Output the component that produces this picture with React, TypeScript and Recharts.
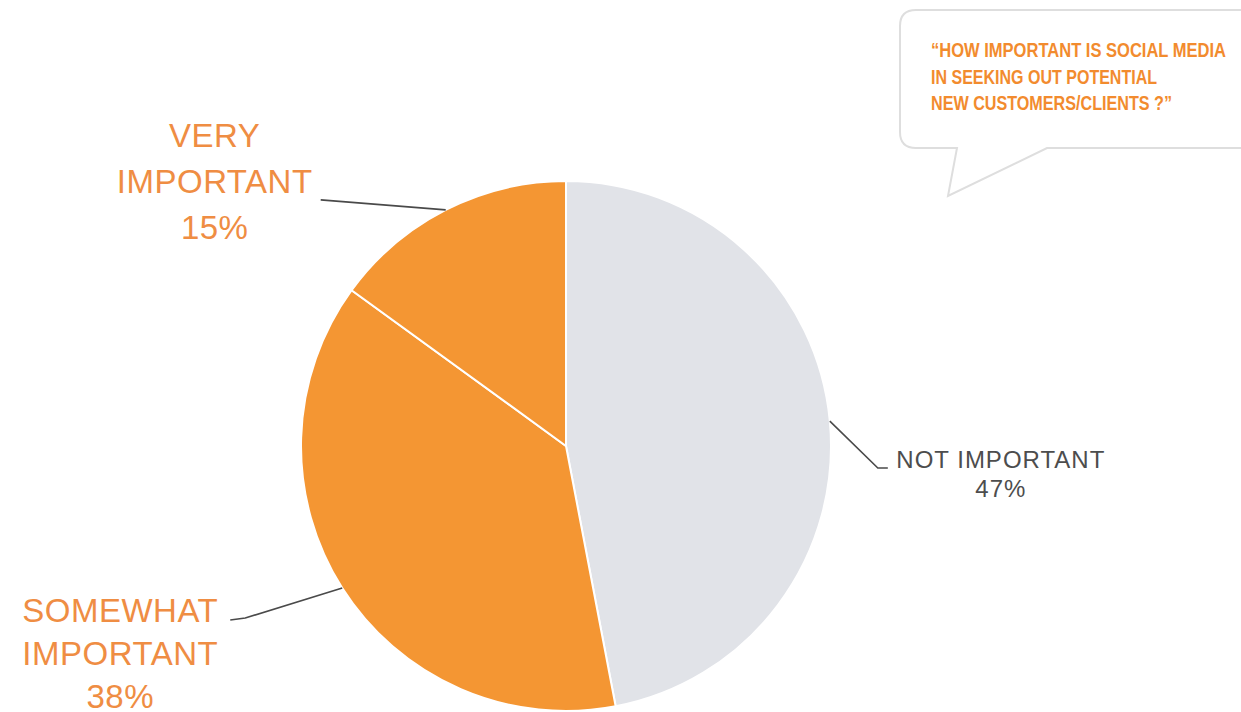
import React from "react";
import { PieChart, Pie, Cell } from "recharts";

// survey answers, clockwise from 12 o'clock
const answers = ["NOT IMPORTANT", "SOMEWHAT IMPORTANT", "VERY IMPORTANT"];
const shares = [47, 38, 15];
const labelLines = [["NOT IMPORTANT"], ["SOMEWHAT", "IMPORTANT"], ["VERY", "IMPORTANT"]];
const questionLines = [
  "\u201CHOW IMPORTANT IS SOCIAL MEDIA",
  "IN SEEKING OUT POTENTIAL",
  "NEW CUSTOMERS/CLIENTS ?\u201D",
];

const ORANGE = "#F49633";
const GREY = "#E1E3E8";
const sliceColors = [GREY, ORANGE, ORANGE];

const data = answers.map((name, i) => ({ name, value: shares[i] }));

// leader line bends / text placement, relative to the point where the line leaves the pie
interface LabelLayout {
  path: [number, number][];
  textX: number;
  textY: number;
  lineGap: number;
  fontSize: number;
  spacing: number;
  color: string;
}

const layouts: LabelLayout[] = [
  { path: [[48, 47], [58, 47]], textX: 171, textY: 47, lineGap: 29, fontSize: 24, spacing: 1, color: "#4d4d4d" },
  { path: [[-97, 30], [-112, 32]], textX: -222, textY: 34, lineGap: 43, fontSize: 33, spacing: 0.5, color: "#EF8D43" },
  { path: [[-125, -10]], textX: -231, textY: -63, lineGap: 46, fontSize: 33, spacing: 0.5, color: "#EF8D43" },
];

const RAD = Math.PI / 180;

function renderLabel(props: any) {
  const { cx, cy, midAngle, outerRadius, index } = props;
  const l = layouts[index];
  const sx = cx + outerRadius * Math.cos(-midAngle * RAD);
  const sy = cy + outerRadius * Math.sin(-midAngle * RAD);
  const pts = [[0, 0], ...l.path].map(([dx, dy]) => `${sx + dx},${sy + dy}`).join(" ");
  const lines = [...labelLines[index], `${shares[index]}%`];
  return (
    <g key={`lbl-${index}`}>
      <polyline points={pts} fill="none" stroke="#4a4a4a" strokeWidth={1.6} />
      <text
        x={sx + l.textX}
        y={sy + l.textY}
        textAnchor="middle"
        fill={l.color}
        fontSize={l.fontSize}
        letterSpacing={l.spacing}
        fontFamily="'Liberation Sans', Arial, sans-serif"
      >
        {lines.map((t, i) => (
          <tspan key={i} x={sx + l.textX} dy={i === 0 ? 0 : l.lineGap}>
            {t}
          </tspan>
        ))}
      </text>
    </g>
  );
}

function SpeechBubble() {
  const r = 16;
  const d = [
    `M ${900 + r} 10`,
    `H 1270`,
    `V 148`,
    `H 1047`,
    `L 948 196`,
    `L 957 148`,
    `H ${900 + r}`,
    `Q 900 148 900 ${148 - r}`,
    `V ${10 + r}`,
    `Q 900 10 ${900 + r} 10`,
    "Z",
  ].join(" ");
  const widths = [295, 226, 241];
  return (
    <svg width={1241} height={712} style={{ position: "absolute", left: 0, top: 0, pointerEvents: "none" }}>
      <path d={d} fill="#fff" stroke="#dedede" strokeWidth={2} />
      {questionLines.map((t, i) => (
        <text
          key={i}
          x={931}
          y={57 + i * 26.5}
          fill="#F28B2E"
          fontSize={20}
          fontWeight="bold"
          fontFamily="'Liberation Sans', Arial, sans-serif"
          textLength={widths[i]}
          lengthAdjust="spacingAndGlyphs"
        >
          {t}
        </text>
      ))}
    </svg>
  );
}

export default function App() {
  return (
    <div style={{ position: "absolute", left: 0, top: 0, width: 1241, height: 712, background: "#fff", overflow: "hidden" }}>
      <PieChart width={1241} height={712} margin={{ top: 0, right: 0, bottom: 0, left: 0 }}>
        <Pie
          data={data}
          dataKey="value"
          cx={566}
          cy={446}
          outerRadius={265}
          startAngle={90}
          endAngle={-270}
          stroke="#fff"
          strokeWidth={2}
          label={renderLabel}
          labelLine={false}
          isAnimationActive={false}
        >
          {data.map((d, i) => (
            <Cell key={d.name} fill={sliceColors[i]} />
          ))}
        </Pie>
      </PieChart>
      <SpeechBubble />
    </div>
  );
}
